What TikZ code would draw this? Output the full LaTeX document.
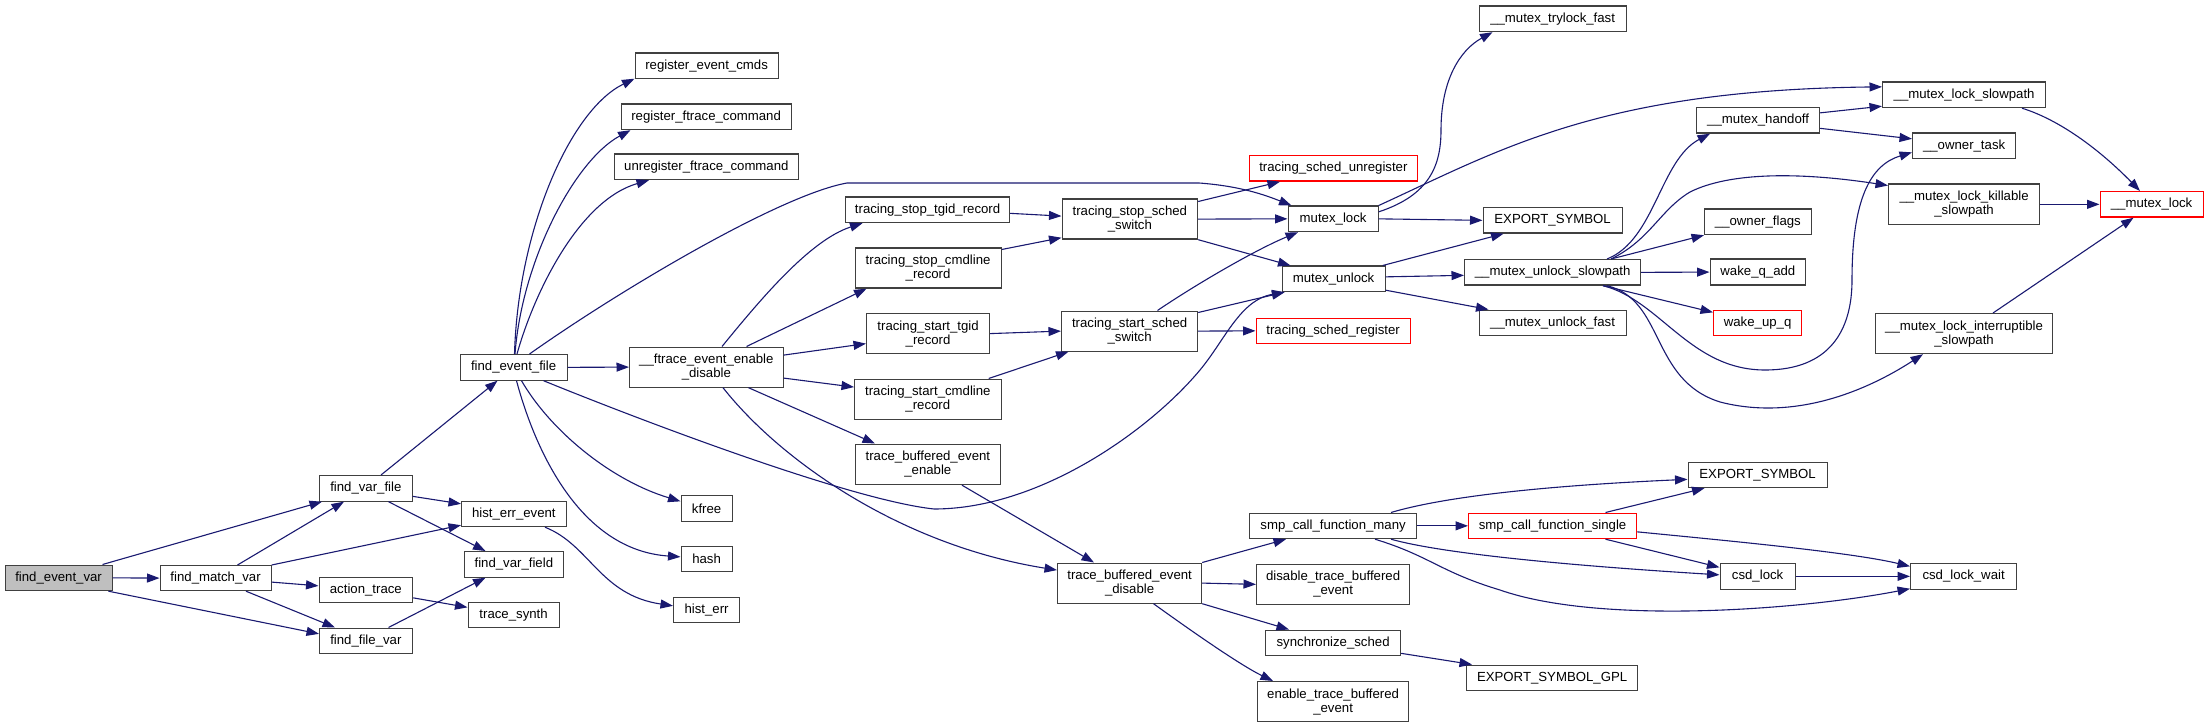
\documentclass[tikz,border=0pt]{standalone}
\usepackage{fontspec}
\setmainfont{Liberation Sans}
\usetikzlibrary{arrows.meta,calc}
\definecolor{edgeblue}{RGB}{25,25,112}
\definecolor{bordergray}{RGB}{64,64,64}
\definecolor{rootgray}{RGB}{191,191,191}
\definecolor{linkred}{RGB}{255,0,0}
\tikzset{
  box/.style={draw=bordergray, line width=1.2pt, fill=white, inner sep=0pt, anchor=north west,
    align=center, font=\fontsize{13.2}{14}\selectfont},
  redbox/.style={box, draw=linkred},
  edge/.style={draw=edgeblue, line width=1.1pt, -{Triangle[length=12.5pt,width=9pt]}},
}
\begin{document}
\begin{tikzpicture}[x=1pt,y=-1pt]
\useasboundingbox (0,0) rectangle (2208,727);
% nodes
\node[box,fill=rootgray,minimum width=107pt,minimum height=25.5pt] (fev) at (4.5,564.5) {find\_event\_var};
\node[box,minimum width=111pt,minimum height=25pt] (fmv) at (159.5,565) {find\_match\_var};
\node[box,minimum width=92.5pt,minimum height=25.5pt] (fvf) at (319,475) {find\_var\_file};
\node[box,minimum width=93.5pt,minimum height=25.5pt] (act) at (318.5,576.5) {action\_trace};
\node[box,minimum width=92.5pt,minimum height=25.5pt] (ffv) at (319,627.5) {find\_file\_var};
\node[box,minimum width=107pt,minimum height=25.5pt] (fef) at (459.5,354) {find\_event\_file};
\node[box,minimum width=104.5pt,minimum height=25.5pt] (hee) at (461,500.5) {hist\_err\_event};
\node[box,minimum width=99.5pt,minimum height=25.5pt] (fvfd) at (463.5,551) {find\_var\_field};
\node[box,minimum width=91pt,minimum height=25.5pt] (ts) at (467.5,601.5) {trace\_synth};
\node[box,minimum width=143pt,minimum height=25.5pt] (rec) at (634.5,52.5) {register\_event\_cmds};
\node[box,minimum width=170pt,minimum height=25.5pt] (rfc) at (620.5,103.5) {register\_ftrace\_command};
\node[box,minimum width=183.5pt,minimum height=25.5pt] (ufc) at (614,153.5) {unregister\_ftrace\_command};
\node[box,minimum width=153.5pt,minimum height=40pt] (fed) at (629,346.5) {\_\_ftrace\_event\_enable\\\_disable};
\node[box,minimum width=51pt,minimum height=25.5pt] (kfree) at (680.5,495) {kfree};
\node[box,minimum width=51pt,minimum height=25.5pt] (hash) at (680.5,545.5) {hash};
\node[box,minimum width=66pt,minimum height=25.5pt] (herr) at (673,596.5) {hist\_err};
\node[box,minimum width=164pt,minimum height=25.5pt] (tstg) at (845,196.5) {tracing\_stop\_tgid\_record};
\node[box,minimum width=146pt,minimum height=40pt] (tscr) at (854.5,247.5) {tracing\_stop\_cmdline\\\_record};
\node[box,minimum width=123pt,minimum height=40pt] (tsttg) at (866,313) {tracing\_start\_tgid\\\_record};
\node[box,minimum width=146.5pt,minimum height=40pt] (tstcr) at (854,378.5) {tracing\_start\_cmdline\\\_record};
\node[box,minimum width=144.5pt,minimum height=40.5pt] (tbee) at (855,443.5) {trace\_buffered\_event\\\_enable};
\node[box,minimum width=144pt,minimum height=40pt] (tbed) at (1057,562.5) {trace\_buffered\_event\\\_disable};
\node[box,minimum width=135.5pt,minimum height=40pt] (tsss) at (1061.5,198.5) {tracing\_stop\_sched\\\_switch};
\node[box,minimum width=136pt,minimum height=40pt] (tsts) at (1061,310.5) {tracing\_start\_sched\\\_switch};
\node[redbox,minimum width=167.5pt,minimum height=25.5pt] (tsu) at (1249,155) {tracing\_sched\_unregister};
\node[box,minimum width=90pt,minimum height=25.5pt] (ml) at (1287.5,205.5) {mutex\_lock};
\node[box,minimum width=103pt,minimum height=25.5pt] (mu) at (1281.5,265.5) {mutex\_unlock};
\node[redbox,minimum width=154pt,minimum height=25.5pt] (tsr) at (1255.5,317.5) {tracing\_sched\_register};
\node[box,minimum width=167pt,minimum height=25.5pt] (smpm) at (1249,512.5) {smp\_call\_function\_many};
\node[box,minimum width=153pt,minimum height=40.5pt] (dtbe) at (1256,563.5) {disable\_trace\_buffered\\\_event};
\node[box,minimum width=135pt,minimum height=25.5pt] (ss) at (1265,629.5) {synchronize\_sched};
\node[box,minimum width=151pt,minimum height=40pt] (etbe) at (1257,681) {enable\_trace\_buffered\\\_event};
\node[box,minimum width=147pt,minimum height=25.5pt] (mtf) at (1478.5,5.5) {\_\_mutex\_trylock\_fast};
\node[box,minimum width=139pt,minimum height=25.5pt] (es1) at (1482.5,207) {EXPORT\_SYMBOL};
\node[box,minimum width=176pt,minimum height=25.5pt] (mus) at (1464,259) {\_\_mutex\_unlock\_slowpath};
\node[box,minimum width=147pt,minimum height=25.5pt] (muf) at (1478.5,309.5) {\_\_mutex\_unlock\_fast};
\node[redbox,minimum width=168pt,minimum height=25.5pt] (smps) at (1468,512.5) {smp\_call\_function\_single};
\node[box,minimum width=171pt,minimum height=25.5pt] (esg) at (1466,664.5) {EXPORT\_SYMBOL\_GPL};
\node[box,minimum width=123pt,minimum height=25.5pt] (mh) at (1696,107) {\_\_mutex\_handoff};
\node[box,minimum width=106.5pt,minimum height=25.5pt] (of) at (1704,208.5) {\_\_owner\_flags};
\node[box,minimum width=95.5pt,minimum height=26pt] (wqa) at (1709.5,258.5) {wake\_q\_add};
\node[redbox,minimum width=88pt,minimum height=25.5pt] (wuq) at (1713,309.5) {wake\_up\_q};
\node[box,minimum width=139pt,minimum height=25.5pt] (es2) at (1687.5,461.5) {EXPORT\_SYMBOL};
\node[box,minimum width=75pt,minimum height=25.5pt] (csdl) at (1719.5,563) {csd\_lock};
\node[box,minimum width=163pt,minimum height=25.5pt] (mls) at (1882,81.5) {\_\_mutex\_lock\_slowpath};
\node[box,minimum width=103pt,minimum height=25.5pt] (ot) at (1912,132.5) {\_\_owner\_task};
\node[box,minimum width=151pt,minimum height=40.5pt] (mlk) at (1888,183.5) {\_\_mutex\_lock\_killable\\\_slowpath};
\node[box,minimum width=177pt,minimum height=40pt] (mli) at (1875,313) {\_\_mutex\_lock\_interruptible\\\_slowpath};
\node[box,minimum width=106pt,minimum height=25.5pt] (csdw) at (1910,563) {csd\_lock\_wait};
\node[redbox,minimum width=103pt,minimum height=25.5pt] (ml2) at (2099.5,191) {\_\_mutex\_lock};
% edges
\draw[edge] ($(fev.north west)+(98,0)$) -- ($(fvf.south west)+(3,0)$);
\draw[edge] (fev.east) -- (fmv.west);
\draw[edge] ($(fev.south west)+(104,0)$) -- ($(ffv.west)+(0,-7)$);
\draw[edge] ($(fmv.north west)+(78,0)$) -- ($(fvf.south west)+(25,0)$);
\draw[edge] (fmv.north east) -- ($(hee.south west)+(0,-2)$);
\draw[edge] ($(fmv.east)+(0,4)$) -- ($(act.west)+(0,-4)$);
\draw[edge] ($(fmv.south west)+(86.5,0)$) -- ($(ffv.north west)+(16,0)$);
\draw[edge] ($(fvf.north west)+(62,0)$) -- ($(fef.south west)+(38,0)$);
\draw[edge] ($(fvf.east)+(0,8)$) -- ($(hee.west)+(0,-10)$);
\draw[edge] ($(fvf.south west)+(69.5,0)$) -- ($(fvfd.north west)+(22,0)$);
\draw[edge] ($(act.east)+(0,8)$) -- ($(ts.west)+(0,-7.5)$);
\draw[edge] ($(ffv.north west)+(69.5,0)$) -- ($(fvfd.south west)+(22,0)$);
\draw[edge] ($(hee.south west)+(84,0)$) .. controls (590,545) and (600,595) .. ($(herr.west)+(0,-4)$);
\draw[edge] ($(fef.north west)+(55,0)$) .. controls (518,230) and (570,110) .. ($(rec.south west)+(0,-0.5)$);
\draw[edge] ($(fef.north west)+(55.5,0)$) .. controls (522,260) and (575,160) .. ($(rfc.south west)+(10,0)$);
\draw[edge] ($(fef.north west)+(57.5,0)$) .. controls (535,290) and (580,200) .. ($(ufc.south west)+(35,0)$);
\draw[edge] ($(fef.north west)+(70,0)$) .. controls (620,290) and (780,195) .. (847,183) -- (1199,183) .. controls (1240,186) and (1265,195) .. ($(ml.north west)+(4,0)$);
\draw[edge] (fef.east) -- (fed.west);
\draw[edge] ($(fef.south west)+(84,0)$) .. controls (640,420) and (850,500) .. (934,509) .. controls (1040,509) and (1150,430) .. (1200,370) .. controls (1225,340) and (1240,300) .. ($(mu.south west)+(3,0)$);
\draw[edge] ($(fef.south west)+(62,0)$) .. controls (550,430) and (610,480) .. ($(kfree.west)+(0,-7)$);
\draw[edge] ($(fef.south west)+(57,0)$) .. controls (535,450) and (580,550) .. ($(hash.west)+(0,-2)$);
\draw[edge] ($(fed.north west)+(93,0)$) .. controls (760,300) and (810,240) .. ($(tstg.south west)+(17.5,0)$);
\draw[edge] ($(fed.north west)+(117.5,0)$) -- ($(tscr.south west)+(12,0)$);
\draw[edge] ($(fed.east)+(0,-12)$) -- ($(tsttg.west)+(0,10)$);
\draw[edge] ($(fed.east)+(0,11)$) -- ($(tstcr.west)+(0,-12)$);
\draw[edge] ($(fed.south west)+(119.5,0)$) -- ($(tbee.north west)+(20,0)$);
\draw[edge] ($(fed.south west)+(94,0)$) .. controls (780,460) and (900,545) .. ($(tbed.west)+(0,-13)$);
\draw[edge] ($(tstg.east)+(0,3.5)$) -- ($(tsss.west)+(0,-3)$);
\draw[edge] ($(tscr.north east)+(0,2)$) -- ($(tsss.south west)+(0,-2)$);
\draw[edge] (tsttg.east) -- (tsts.west);
\draw[edge] ($(tstcr.north east)+(-13,0)$) -- ($(tsts.south west)+(7.5,0)$);
\draw[edge] ($(tbee.south west)+(107,0)$) -- ($(tbed.north west)+(37,0)$);
\draw[edge] ($(tsss.north east)+(0,3)$) -- ($(tsu.south west)+(31,0)$);
\draw[edge] (tsss.east) -- (ml.west);
\draw[edge] (tsss.south east) -- ($(mu.north west)+(9,0)$);
\draw[edge] ($(tsts.north west)+(96.5,0)$) .. controls (1195,285) and (1255,250) .. ($(ml.south west)+(10.5,0)$);
\draw[edge] ($(tsts.north east)+(0,2)$) -- ($(mu.south west)+(3,0)$);
\draw[edge] (tsts.east) -- (tsr.west);
\draw[edge] ($(ml.east)+(0,-7)$) .. controls (1430,195) and (1441,165) .. (1441,130) .. controls (1441,80) and (1460,50) .. ($(mtf.south west)+(14,0)$);
\draw[edge] (ml.north east) .. controls (1500,150) and (1600,90) .. ($(mls.west)+(0,-8)$);
\draw[edge] (ml.east) -- (es1.west);
\draw[edge] ($(mu.north east)+(-3,0)$) -- ($(es1.south west)+(21,0)$);
\draw[edge] ($(mu.east)+(0,-2)$) -- ($(mus.west)+(0,3)$);
\draw[edge] ($(mu.south east)+(0,-2)$) -- ($(muf.north west)+(10,0)$);
\draw[edge] ($(mus.north west)+(143,0)$) .. controls (1655,240) and (1660,160) .. ($(mh.south west)+(14,0)$);
\draw[edge] ($(mus.north west)+(147,0)$) .. controls (1650,240) and (1660,210) .. (1690,192) .. controls (1730,172) and (1800,172) .. ($(mlk.north west)+(0,2)$);
\draw[edge] ($(mus.north west)+(147,0)$) -- (of.south west);
\draw[edge] (mus.east) -- (wqa.west);
\draw[edge] ($(mus.south west)+(139,0)$) -- ($(wuq.west)+(0,-10.5)$);
\draw[edge] ($(mus.south west)+(139,0)$) .. controls (1660,300) and (1690,370) .. (1765,370) .. controls (1830,370) and (1852,330) .. (1852,280) .. controls (1852,200) and (1870,165) .. ($(ot.west)+(0,6.5)$);
\draw[edge] ($(mus.south west)+(143,0)$) .. controls (1665,300) and (1650,380) .. (1720,402) .. controls (1790,420) and (1860,395) .. ($(mli.south west)+(48,0)$);
\draw[edge] ($(mh.east)+(0,-7.5)$) -- ($(mls.south west)+(0,-2)$);
\draw[edge] ($(mh.east)+(0,8)$) -- ($(ot.west)+(0,-7)$);
\draw[edge] ($(mls.south west)+(140,0)$) .. controls (2060,120) and (2100,150) .. ($(ml2.north west)+(40.5,0)$);
\draw[edge] (mlk.east) -- (ml2.west);
\draw[edge] ($(mli.north west)+(118,0)$) -- ($(ml2.south west)+(34,0)$);
\draw[edge] (tbed.north east) -- ($(smpm.south west)+(37,0)$);
\draw[edge] (tbed.east) -- (dtbe.west);
\draw[edge] (tbed.south east) -- ($(ss.north west)+(24,0)$);
\draw[edge] ($(tbed.south west)+(96.5,0)$) .. controls (1190,630) and (1240,665) .. ($(etbe.north west)+(16,0)$);
\draw[edge] ($(smpm.north west)+(142,0)$) .. controls (1450,495) and (1560,485) .. ($(es2.west)+(0,4.5)$);
\draw[edge] (smpm.east) -- (smps.west);
\draw[edge] ($(smpm.south west)+(142,0)$) .. controls (1440,553) and (1560,565) .. ($(csdl.west)+(0,-1.5)$);
\draw[edge] ($(smpm.south west)+(126,0)$) .. controls (1430,556) and (1440,572) .. (1500,590) .. controls (1600,625) and (1800,610) .. ($(csdw.south west)+(0,-1)$);
\draw[edge] ($(smps.north west)+(137.5,0)$) -- ($(es2.south west)+(17,0)$);
\draw[edge] ($(smps.south west)+(137.5,0)$) -- ($(csdl.west)+(0,-9)$);
\draw[edge] ($(smps.east)+(0,6)$) .. controls (1720,540) and (1850,552) .. ($(csdw.west)+(0,-10)$);
\draw[edge] (csdl.east) -- (csdw.west);
\draw[edge] ($(ss.east)+(0,10.5)$) -- ($(esg.north west)+(6,0)$);
\end{tikzpicture}
\end{document}
